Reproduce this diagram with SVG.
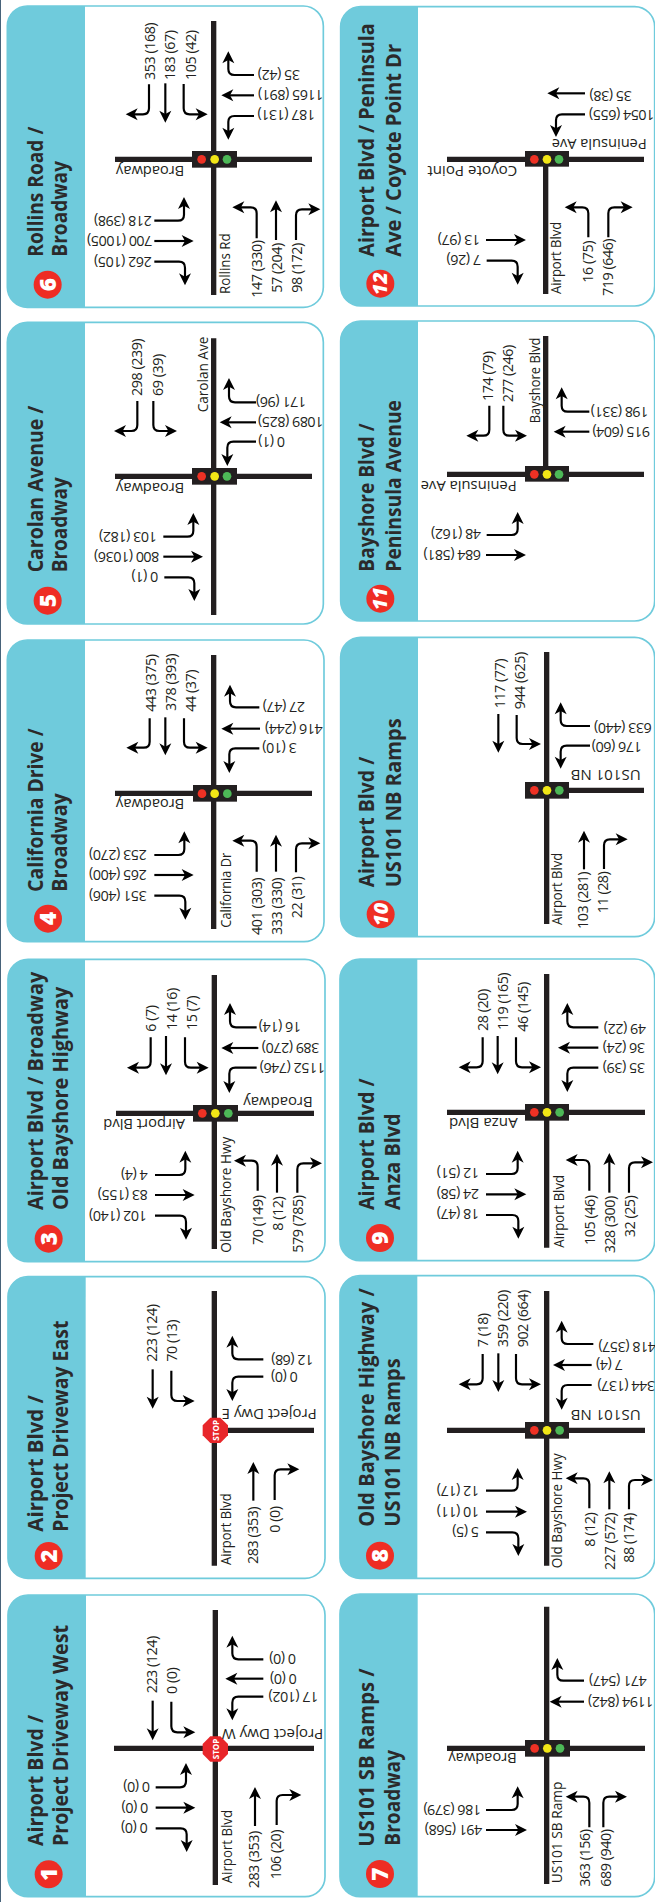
<svg xmlns="http://www.w3.org/2000/svg" xmlns:xlink="http://www.w3.org/1999/xlink" width="655" height="1902" viewBox="0 0 655 1902">
<style>
text{font-family:"Open Sans","Noto Sans",sans-serif;fill:#231f20}
.n{font-size:43px;letter-spacing:-1.4px}
.r{font-size:46px}
.t{font-size:63px;font-weight:700;fill:#2b2a2b}
.b{font-size:68px;font-weight:800;fill:#fff;text-anchor:middle}
.bi{font-size:60px;font-style:italic}
.s{font-size:27px;font-weight:700;fill:#fff;text-anchor:middle}
.panel{fill:#fff;stroke:#6fcbdc;stroke-width:5}
.strip{fill:#6fcbdc}
.badge{fill:#ee2d24}
.road{stroke:#231f20;stroke-width:16;fill:none}
.box{fill:#231f20}
.lr{fill:#ee3124}.ly{fill:#f2e616}.lg{fill:#4db857}
.a{fill:none;stroke:#000;stroke-width:6.5;marker-end:url(#h)}
</style>
<defs>
<marker id="h" markerUnits="userSpaceOnUse" markerWidth="40" markerHeight="40" refX="12" refY="18" orient="auto" overflow="visible"><path d="M36 18 L0 0 L10 18 L0 36Z" fill="#000"/></marker>
<polygon id="oct" points="-15,-38 15,-38 38,-15 38,15 15,38 -15,38 -38,15 -38,-15" fill="#e8262a"/>
</defs>
<rect width="655" height="1902" fill="#fff"/>
<rect width="1" height="1902" fill="#47637a"/>

<g id="intersection-1" transform="translate(0 1580) scale(.33333)">
<rect class="panel" x="24" y="45" width="951" height="905" rx="60"/>
<path class="strip" d="M258 45H84A60 60 0 0 0 24 105V890A60 60 0 0 0 84 950H258Z"/>
<circle class="badge" cx="146" cy="883" r="42"/><text class="b" transform="translate(170 883)rotate(-90)">1</text>
<text class="t" textLength="393" lengthAdjust="spacingAndGlyphs" transform="translate(128 798)rotate(-90)">Airport Blvd /</text>
<text class="t" textLength="663" lengthAdjust="spacingAndGlyphs" transform="translate(205 798)rotate(-90)">Project Driveway West</text>
<path class="road" d="M646 90V915M342 505H942"/>
<use xlink:href="#oct" href="#oct" x="646" y="507"/><text class="s" textLength="62" lengthAdjust="spacingAndGlyphs" transform="translate(656 507)rotate(-90)">STOP</text>
<text class="r" textLength="220" lengthAdjust="spacingAndGlyphs" transform="translate(695 910)rotate(-90)">Airport Blvd</text>
<text class="r" textLength="305" lengthAdjust="spacingAndGlyphs" transform="translate(970 447)rotate(180)">Project Dwy W</text>
<text class="n" transform="translate(470 340)rotate(-90)">223 (124)</text>
<text class="n" transform="translate(532 342)rotate(-90)">0 (0)</text>
<text class="n" transform="translate(888 223)rotate(180)">0 (0)</text>
<text class="n" transform="translate(890 281)rotate(180)">0 (0)</text>
<text class="n" transform="translate(955 336)rotate(180)">17 (102)</text>
<text class="n" transform="translate(450 607)rotate(180)">0 (0)</text>
<text class="n" transform="translate(445 668)rotate(180)">0 (0)</text>
<text class="n" transform="translate(443 730)rotate(180)">0 (0)</text>
<text class="n" transform="translate(778 925)rotate(-90)">283 (353)</text>
<text class="n" transform="translate(843 898)rotate(-90)">106 (20)</text>
</g>

<g id="intersection-2" transform="translate(0 1260) scale(.33333)">
<rect class="panel" x="24" y="50" width="951" height="905" rx="60"/>
<path class="strip" d="M257 50H84A60 60 0 0 0 24 110V895A60 60 0 0 0 84 955H257Z"/>
<circle class="badge" cx="146" cy="888" r="42"/><text class="b" transform="translate(170 888)rotate(-90)">2</text>
<text class="t" textLength="410" lengthAdjust="spacingAndGlyphs" transform="translate(128 815)rotate(-90)">Airport Blvd /</text>
<text class="t" textLength="633" lengthAdjust="spacingAndGlyphs" transform="translate(205 815)rotate(-90)">Project Driveway East</text>
<path class="road" d="M643 93V917M643 511H942"/>
<use xlink:href="#oct" href="#oct" x="646" y="511"/><text class="s" textLength="62" lengthAdjust="spacingAndGlyphs" transform="translate(656 511)rotate(-90)">STOP</text>
<text class="r" textLength="215" lengthAdjust="spacingAndGlyphs" transform="translate(692 915)rotate(-90)">Airport Blvd</text>
<text class="r" textLength="285" lengthAdjust="spacingAndGlyphs" transform="translate(950 447)rotate(180)">Project Dwy E</text>
<text class="n" transform="translate(470 305)rotate(-90)">223 (124)</text>
<text class="n" transform="translate(530 305)rotate(-90)">70 (13)</text>
<text class="n" transform="translate(940 284)rotate(180)">12 (68)</text>
<text class="n" transform="translate(893 337)rotate(180)">0 (0)</text>
<text class="n" transform="translate(775 912)rotate(-90)">283 (353)</text>
<text class="n" transform="translate(840 818)rotate(-90)">0 (0)</text>
</g>

<g id="intersection-3" transform="translate(0 950) scale(.33333)">
<rect class="panel" x="24" y="28" width="951" height="907" rx="60"/>
<path class="strip" d="M255 28H84A60 60 0 0 0 24 88V875A60 60 0 0 0 84 935H255Z"/>
<circle class="badge" cx="146" cy="866" r="42"/><text class="b" transform="translate(170 866)rotate(-90)">3</text>
<text class="t" textLength="715" lengthAdjust="spacingAndGlyphs" transform="translate(128 780)rotate(-90)">Airport Blvd / Broadway</text>
<text class="t" textLength="670" lengthAdjust="spacingAndGlyphs" transform="translate(205 780)rotate(-90)">Old Bayshore Highway</text>
<path class="road" d="M643 75V897M348 490H942"/>
<rect class="box" x="579" y="465" width="135" height="50"/><circle class="lr" cx="607" cy="490" r="13"/><circle class="ly" cx="646" cy="490" r="13"/><circle class="lg" cx="685" cy="490" r="13"/>
<text class="r" textLength="348" lengthAdjust="spacingAndGlyphs" transform="translate(692 908)rotate(-90)">Old Bayshore Hwy</text>
<text class="r" textLength="208" lengthAdjust="spacingAndGlyphs" transform="translate(938 440)rotate(180)">Broadway</text>
<text class="r" textLength="245" lengthAdjust="spacingAndGlyphs" transform="translate(555 508)rotate(180)">Airport Blvd</text>
<text class="n" transform="translate(468 245)rotate(-90)">6 (7)</text>
<text class="n" transform="translate(530 240)rotate(-90)">14 (16)</text>
<text class="n" transform="translate(590 240)rotate(-90)">15 (7)</text>
<text class="n" transform="translate(903 217)rotate(180)">16 (14)</text>
<text class="n" transform="translate(958 279)rotate(180)">389 (270)</text>
<text class="n" transform="translate(975 338)rotate(180)">1152 (746)</text>
<text class="n" transform="translate(443 660)rotate(180)">4 (4)</text>
<text class="n" transform="translate(443 720)rotate(180)">83 (155)</text>
<text class="n" transform="translate(440 782)rotate(180)">102 (140)</text>
<text class="n" transform="translate(790 885)rotate(-90)">70 (149)</text>
<text class="n" transform="translate(848 842)rotate(-90)">8 (12)</text>
<text class="n" transform="translate(908 908)rotate(-90)">579 (785)</text>
</g>

<g id="intersection-4" transform="translate(0 630) scale(.33333)">
<rect class="panel" x="22" y="30" width="950" height="905" rx="60"/>
<path class="strip" d="M255 30H82A60 60 0 0 0 22 90V875A60 60 0 0 0 82 935H255Z"/>
<circle class="badge" cx="144" cy="866" r="42"/><text class="b" transform="translate(168 866)rotate(-90)">4</text>
<text class="t" textLength="490" lengthAdjust="spacingAndGlyphs" transform="translate(128 785)rotate(-90)">California Drive /</text>
<text class="t" textLength="295" lengthAdjust="spacingAndGlyphs" transform="translate(200 785)rotate(-90)">Broadway</text>
<path class="road" d="M641 75V897M345 490H936"/>
<rect class="box" x="579" y="465" width="132" height="50"/><circle class="lr" cx="606" cy="491" r="13"/><circle class="ly" cx="644" cy="491" r="13"/><circle class="lg" cx="682" cy="491" r="13"/>
<text class="r" textLength="225" lengthAdjust="spacingAndGlyphs" transform="translate(692 893)rotate(-90)">California Dr</text>
<text class="r" textLength="205" lengthAdjust="spacingAndGlyphs" transform="translate(553 508)rotate(180)">Broadway</text>
<text class="n" transform="translate(467 245)rotate(-90)">443 (375)</text>
<text class="n" transform="translate(527 243)rotate(-90)">378 (393)</text>
<text class="n" transform="translate(587 245)rotate(-90)">44 (37)</text>
<text class="n" transform="translate(915 217)rotate(180)">27 (47)</text>
<text class="n" transform="translate(968 281)rotate(180)">416 (244)</text>
<text class="n" transform="translate(890 338)rotate(180)">3 (10)</text>
<text class="n" transform="translate(440 660)rotate(180)">253 (270)</text>
<text class="n" transform="translate(440 720)rotate(180)">265 (400)</text>
<text class="n" transform="translate(440 782)rotate(180)">351 (406)</text>
<text class="n" transform="translate(785 915)rotate(-90)">401 (303)</text>
<text class="n" transform="translate(845 915)rotate(-90)">333 (330)</text>
<text class="n" transform="translate(905 865)rotate(-90)">22 (31)</text>
</g>

<g id="intersection-5" transform="translate(0 315) scale(.33333)">
<rect class="panel" x="22" y="22" width="948" height="905" rx="60"/>
<path class="strip" d="M255 22H82A60 60 0 0 0 22 82V867A60 60 0 0 0 82 927H255Z"/>
<circle class="badge" cx="143" cy="857" r="42"/><text class="b" transform="translate(167 857)rotate(-90)">5</text>
<text class="t" textLength="500" lengthAdjust="spacingAndGlyphs" transform="translate(128 772)rotate(-90)">Carolan Avenue /</text>
<text class="t" textLength="285" lengthAdjust="spacingAndGlyphs" transform="translate(200 772)rotate(-90)">Broadway</text>
<path class="road" d="M641 70V900M345 484H936"/>
<rect class="box" x="576" y="459" width="135" height="50"/><circle class="lr" cx="605" cy="484" r="13"/><circle class="ly" cx="644" cy="484" r="13"/><circle class="lg" cx="681" cy="484" r="13"/>
<text class="r" textLength="227" lengthAdjust="spacingAndGlyphs" transform="translate(625 292)rotate(-90)">Carolan Ave</text>
<text class="r" textLength="205" lengthAdjust="spacingAndGlyphs" transform="translate(553 503)rotate(180)">Broadway</text>
<text class="n" transform="translate(427 243)rotate(-90)">298 (239)</text>
<text class="n" transform="translate(488 243)rotate(-90)">69 (39)</text>
<text class="n" transform="translate(918 247)rotate(180)">171 (96)</text>
<text class="n" transform="translate(970 307)rotate(180)">1089 (825)</text>
<text class="n" transform="translate(855 365)rotate(180)">0 (1)</text>
<text class="n" transform="translate(470 650)rotate(180)">103 (182)</text>
<text class="n" transform="translate(478 710)rotate(180)">800 (1036)</text>
<text class="n" transform="translate(475 772)rotate(180)">0 (1)</text>
</g>

<g id="intersection-6" transform="scale(.33333)">
<rect class="panel" x="22" y="18" width="948" height="904" rx="60"/>
<path class="strip" d="M255 18H82A60 60 0 0 0 22 78V862A60 60 0 0 0 82 922H255Z"/>
<circle class="badge" cx="143" cy="854" r="42"/><text class="b" transform="translate(167 854)rotate(-90)">6</text>
<text class="t" textLength="390" lengthAdjust="spacingAndGlyphs" transform="translate(128 770)rotate(-90)">Rollins Road /</text>
<text class="t" textLength="287" lengthAdjust="spacingAndGlyphs" transform="translate(200 770)rotate(-90)">Broadway</text>
<path class="road" d="M641 63V885M345 478H936"/>
<rect class="box" x="576" y="453" width="135" height="50"/><circle class="lr" cx="605" cy="478" r="13"/><circle class="ly" cx="644" cy="478" r="13"/><circle class="lg" cx="681" cy="478" r="13"/>
<text class="r" textLength="182" lengthAdjust="spacingAndGlyphs" transform="translate(690 882)rotate(-90)">Rollins Rd</text>
<text class="r" textLength="205" lengthAdjust="spacingAndGlyphs" transform="translate(553 498)rotate(180)">Broadway</text>
<text class="n" transform="translate(465 240)rotate(-90)">353 (168)</text>
<text class="n" transform="translate(525 240)rotate(-90)">183 (67)</text>
<text class="n" transform="translate(588 240)rotate(-90)">105 (42)</text>
<text class="n" transform="translate(900 210)rotate(180)">35 (42)</text>
<text class="n" transform="translate(970 271)rotate(180)">1165 (891)</text>
<text class="n" transform="translate(945 330)rotate(180)">187 (131)</text>
<text class="n" transform="translate(455 647)rotate(180)">218 (398)</text>
<text class="n" transform="translate(457 708)rotate(180)">700 (1005)</text>
<text class="n" transform="translate(455 770)rotate(180)">262 (105)</text>
<text class="n" transform="translate(785 893)rotate(-90)">147 (330)</text>
<text class="n" transform="translate(845 878)rotate(-90)">57 (204)</text>
<text class="n" transform="translate(905 878)rotate(-90)">98 (172)</text>
</g>

<g id="intersection-7" transform="translate(330 1580) scale(.33333)">
<rect class="panel" x="30" y="42" width="944" height="908" rx="60"/>
<path class="strip" d="M263 42H90A60 60 0 0 0 30 102V890A60 60 0 0 0 90 950H263Z"/>
<circle class="badge" cx="150" cy="882" r="42"/><text class="b" transform="translate(174 882)rotate(-90)">7</text>
<text class="t" textLength="535" lengthAdjust="spacingAndGlyphs" transform="translate(132 800)rotate(-90)">US101 SB Ramps /</text>
<text class="t" textLength="287" lengthAdjust="spacingAndGlyphs" transform="translate(210 797)rotate(-90)">Broadway</text>
<path class="road" d="M650 80V912M351 505H945"/>
<rect class="box" x="585" y="480" width="135" height="50"/><circle class="lr" cx="614" cy="505" r="13"/><circle class="ly" cx="652" cy="505" r="13"/><circle class="lg" cx="690" cy="505" r="13"/>
<text class="r" textLength="305" lengthAdjust="spacingAndGlyphs" transform="translate(695 910)rotate(-90)">US101 SB Ramp</text>
<text class="r" textLength="205" lengthAdjust="spacingAndGlyphs" transform="translate(560 520)rotate(180)">Broadway</text>
<text class="n" transform="translate(950 287)rotate(180)">471 (547)</text>
<text class="n" transform="translate(970 350)rotate(180)">1194 (842)</text>
<text class="n" transform="translate(453 675)rotate(180)">186 (379)</text>
<text class="n" transform="translate(457 735)rotate(180)">491 (568)</text>
<text class="n" transform="translate(780 920)rotate(-90)">363 (156)</text>
<text class="n" transform="translate(842 920)rotate(-90)">689 (940)</text>
</g>

<g id="intersection-8" transform="translate(330 1260) scale(.33333)">
<rect class="panel" x="30" y="47" width="944" height="908" rx="60"/>
<path class="strip" d="M262 47H90A60 60 0 0 0 30 107V895A60 60 0 0 0 90 955H262Z"/>
<circle class="badge" cx="150" cy="887" r="42"/><text class="b" transform="translate(174 887)rotate(-90)">8</text>
<text class="t" textLength="715" lengthAdjust="spacingAndGlyphs" transform="translate(132 800)rotate(-90)">Old Bayshore Highway /</text>
<text class="t" textLength="505" lengthAdjust="spacingAndGlyphs" transform="translate(210 800)rotate(-90)">US101 NB Ramps</text>
<path class="road" d="M650 93V917M351 511H945"/>
<rect class="box" x="585" y="486" width="132" height="50"/><circle class="lr" cx="613" cy="511" r="13"/><circle class="ly" cx="651" cy="511" r="13"/><circle class="lg" cx="689" cy="511" r="13"/>
<text class="r" textLength="345" lengthAdjust="spacingAndGlyphs" transform="translate(695 925)rotate(-90)">Old Bayshore Hwy</text>
<text class="r" textLength="210" lengthAdjust="spacingAndGlyphs" transform="translate(932 450)rotate(180)">US101 NB</text>
<text class="n" transform="translate(475 262)rotate(-90)">7 (18)</text>
<text class="n" transform="translate(535 262)rotate(-90)">359 (220)</text>
<text class="n" transform="translate(595 262)rotate(-90)">902 (664)</text>
<text class="n" transform="translate(978 247)rotate(180)">418 (357)</text>
<text class="n" transform="translate(878 300)rotate(180)">7 (4)</text>
<text class="n" transform="translate(975 363)rotate(180)">344 (137)</text>
<text class="n" transform="translate(447 677)rotate(180)">12 (17)</text>
<text class="n" transform="translate(447 740)rotate(180)">10 (11)</text>
<text class="n" transform="translate(447 800)rotate(180)">5 (5)</text>
<text class="n" transform="translate(795 860)rotate(-90)">8 (12)</text>
<text class="n" transform="translate(855 930)rotate(-90)">227 (572)</text>
<text class="n" transform="translate(913 908)rotate(-90)">88 (174)</text>
</g>

<g id="intersection-9" transform="translate(330 950) scale(.33333)">
<rect class="panel" x="30" y="27" width="944" height="905" rx="60"/>
<path class="strip" d="M262 27H90A60 60 0 0 0 30 87V872A60 60 0 0 0 90 932H262Z"/>
<circle class="badge" cx="150" cy="864" r="42"/><text class="b" transform="translate(174 864)rotate(-90)">9</text>
<text class="t" textLength="395" lengthAdjust="spacingAndGlyphs" transform="translate(132 780)rotate(-90)">Airport Blvd /</text>
<text class="t" textLength="290" lengthAdjust="spacingAndGlyphs" transform="translate(210 780)rotate(-90)">Anza Blvd</text>
<path class="road" d="M650 72V893M351 487H945"/>
<rect class="box" x="585" y="462" width="132" height="50"/><circle class="lr" cx="613" cy="487" r="13"/><circle class="ly" cx="651" cy="487" r="13"/><circle class="lg" cx="689" cy="487" r="13"/>
<text class="r" textLength="218" lengthAdjust="spacingAndGlyphs" transform="translate(703 893)rotate(-90)">Airport Blvd</text>
<text class="r" textLength="206" lengthAdjust="spacingAndGlyphs" transform="translate(563 505)rotate(180)">Anza Blvd</text>
<text class="n" transform="translate(473 243)rotate(-90)">28 (20)</text>
<text class="n" transform="translate(533 240)rotate(-90)">119 (165)</text>
<text class="n" transform="translate(593 245)rotate(-90)">46 (145)</text>
<text class="n" transform="translate(948 222)rotate(180)">49 (22)</text>
<text class="n" transform="translate(945 280)rotate(180)">36 (24)</text>
<text class="n" transform="translate(945 340)rotate(180)">35 (39)</text>
<text class="n" transform="translate(447 655)rotate(180)">12 (51)</text>
<text class="n" transform="translate(447 718)rotate(180)">24 (58)</text>
<text class="n" transform="translate(447 778)rotate(180)">18 (47)</text>
<text class="n" transform="translate(795 885)rotate(-90)">105 (46)</text>
<text class="n" transform="translate(855 910)rotate(-90)">328 (300)</text>
<text class="n" transform="translate(915 862)rotate(-90)">32 (25)</text>
</g>

<g id="intersection-10" transform="translate(330 630) scale(.33333)">
<rect class="panel" x="32" y="22" width="942" height="898" rx="60"/>
<path class="strip" d="M264 22H92A60 60 0 0 0 32 82V860A60 60 0 0 0 92 920H264Z"/>
<circle class="badge" cx="152" cy="853" r="42"/><text class="b bi" transform="translate(173 853)rotate(-90)">10</text>
<text class="t" textLength="392" lengthAdjust="spacingAndGlyphs" transform="translate(132 772)rotate(-90)">Airport Blvd /</text>
<text class="t" textLength="507" lengthAdjust="spacingAndGlyphs" transform="translate(212 772)rotate(-90)">US101 NB Ramps</text>
<path class="road" d="M650 66V882M717 481H942"/>
<rect class="box" x="585" y="456" width="132" height="50"/><circle class="lr" cx="613" cy="481" r="13"/><circle class="ly" cx="651" cy="481" r="13"/><circle class="lg" cx="688" cy="481" r="13"/>
<text class="r" textLength="217" lengthAdjust="spacingAndGlyphs" transform="translate(695 885)rotate(-90)">Airport Blvd</text>
<text class="r" textLength="210" lengthAdjust="spacingAndGlyphs" transform="translate(932 420)rotate(180)">US101 NB</text>
<text class="n" transform="translate(525 235)rotate(-90)">117 (77)</text>
<text class="n" transform="translate(585 238)rotate(-90)">944 (625)</text>
<text class="n" transform="translate(965 278)rotate(180)">633 (440)</text>
<text class="n" transform="translate(935 337)rotate(180)">176 (60)</text>
<text class="n" transform="translate(775 897)rotate(-90)">103 (281)</text>
<text class="n" transform="translate(835 850)rotate(-90)">11 (28)</text>
</g>

<g id="intersection-11" transform="translate(330 315) scale(.33333)">
<rect class="panel" x="32" y="18" width="942" height="900" rx="60"/>
<path class="strip" d="M264 18H92A60 60 0 0 0 32 78V858A60 60 0 0 0 92 918H264Z"/>
<circle class="badge" cx="151" cy="851" r="42"/><text class="b bi" transform="translate(172 851)rotate(-90)">11</text>
<text class="t" textLength="445" lengthAdjust="spacingAndGlyphs" transform="translate(132 770)rotate(-90)">Bayshore Blvd /</text>
<text class="t" textLength="515" lengthAdjust="spacingAndGlyphs" transform="translate(212 770)rotate(-90)">Peninsula Avenue</text>
<path class="road" d="M647 63V478M351 478H942"/>
<rect class="box" x="585" y="453" width="132" height="47"/><circle class="lr" cx="613" cy="478" r="13"/><circle class="ly" cx="651" cy="478" r="13"/><circle class="lg" cx="687" cy="478" r="13"/>
<text class="r" textLength="257" lengthAdjust="spacingAndGlyphs" transform="translate(630 325)rotate(-90)">Bayshore Blvd</text>
<text class="r" textLength="288" lengthAdjust="spacingAndGlyphs" transform="translate(560 497)rotate(180)">Peninsula Ave</text>
<text class="n" transform="translate(490 258)rotate(-90)">174 (79)</text>
<text class="n" transform="translate(550 262)rotate(-90)">277 (246)</text>
<text class="n" transform="translate(955 275)rotate(180)">198 (331)</text>
<text class="n" transform="translate(960 335)rotate(180)">915 (604)</text>
<text class="n" transform="translate(453 643)rotate(180)">48 (162)</text>
<text class="n" transform="translate(453 705)rotate(180)">684 (581)</text>
</g>

<g id="intersection-12" transform="translate(330 0) scale(.33333)">
<rect class="panel" x="32" y="20" width="942" height="898" rx="60"/>
<path class="strip" d="M264 20H92A60 60 0 0 0 32 80V858A60 60 0 0 0 92 918H264Z"/>
<circle class="badge" cx="151" cy="851" r="42"/><text class="b bi" transform="translate(172 851)rotate(-90)">12</text>
<text class="t" textLength="700" lengthAdjust="spacingAndGlyphs" transform="translate(132 770)rotate(-90)">Airport Blvd / Peninsula</text>
<text class="t" textLength="638" lengthAdjust="spacingAndGlyphs" transform="translate(212 770)rotate(-90)">Ave / Coyote Point Dr</text>
<path class="road" d="M647 478V882M351 478H942"/>
<rect class="box" x="585" y="453" width="132" height="47"/><circle class="lr" cx="613" cy="478" r="13"/><circle class="ly" cx="651" cy="478" r="13"/><circle class="lg" cx="687" cy="478" r="13"/>
<text class="r" textLength="217" lengthAdjust="spacingAndGlyphs" transform="translate(693 882)rotate(-90)">Airport Blvd</text>
<text class="r" textLength="285" lengthAdjust="spacingAndGlyphs" transform="translate(950 418)rotate(180)">Peninsula Ave</text>
<text class="r" textLength="270" lengthAdjust="spacingAndGlyphs" transform="translate(562 497)rotate(180)">Coyote Point</text>
<text class="n" transform="translate(905 272)rotate(180)">35 (38)</text>
<text class="n" transform="translate(973 330)rotate(180)">1054 (655)</text>
<text class="n" transform="translate(450 705)rotate(180)">13 (97)</text>
<text class="n" transform="translate(453 765)rotate(180)">7 (26)</text>
<text class="n" transform="translate(790 848)rotate(-90)">16 (75)</text>
<text class="n" transform="translate(850 888)rotate(-90)">719 (646)</text>
</g>

<g id="connectors">
<g id="arrows-1" transform="translate(0 1580) scale(.33333)">
<path class="a" d="M458 362V457"/>
<path class="a" d="M514 365V439q0 18 18 18H562"/>
<path class="a" d="M790 238H715q-18 0 -18 -18V191"/>
<path class="a" d="M790 296H700"/>
<path class="a" d="M790 350H715q-18 0 -18 18V397"/>
<path class="a" d="M467 622H540q18 0 18 -18V573"/>
<path class="a" d="M467 683H562"/>
<path class="a" d="M467 745H542q18 0 18 18V792"/>
<path class="a" d="M765 738V645"/>
<path class="a" d="M830 735V663q0 -18 18 -18H880"/>
</g>
<g id="arrows-2" transform="translate(0 1260) scale(.33333)">
<path class="a" d="M458 328V422"/>
<path class="a" d="M514 332V405q0 18 18 18H560"/>
<path class="a" d="M790 298H715q-18 0 -18 -18V251"/>
<path class="a" d="M790 350H715q-18 0 -18 18V399"/>
<path class="a" d="M760 722V630"/>
<path class="a" d="M824 720V646q0 -18 18 -18H874"/>
</g>
<g id="arrows-3" transform="translate(0 950) scale(.33333)">
<path class="a" d="M452 262V335q0 18 -18 18H405"/>
<path class="a" d="M498 258V352"/>
<path class="a" d="M555 262V335q0 18 18 18H602"/>
<path class="a" d="M770 232H708q-18 0 -18 -18V183"/>
<path class="a" d="M775 294H688"/>
<path class="a" d="M770 353H706q-18 0 -18 18V405"/>
<path class="a" d="M465 675H538q18 0 18 -18V626"/>
<path class="a" d="M465 735H560"/>
<path class="a" d="M465 797H540q18 0 18 18V845"/>
<path class="a" d="M773 722V650q0 -18 -18 -18H726"/>
<path class="a" d="M831 728V635"/>
<path class="a" d="M892 728V658q0 -18 18 -18H942"/>
</g>
<g id="arrows-4" transform="translate(0 630) scale(.33333)">
<path class="a" d="M449 265V335q0 18 -18 18H403"/>
<path class="a" d="M496 262V352"/>
<path class="a" d="M552 265V335q0 18 18 18H599"/>
<path class="a" d="M778 232H708q-18 0 -18 -18V188"/>
<path class="a" d="M780 296H688"/>
<path class="a" d="M778 355H706q-18 0 -18 18V405"/>
<path class="a" d="M463 675H535q18 0 18 -18V628"/>
<path class="a" d="M463 735H557"/>
<path class="a" d="M463 797H538q18 0 18 18V845"/>
<path class="a" d="M770 725V650q0 -18 -18 -18H721"/>
<path class="a" d="M828 725V638"/>
<path class="a" d="M888 727V658q0 -18 18 -18H937"/>
</g>
<g id="arrows-5" transform="translate(0 315) scale(.33333)">
<path class="a" d="M412 258V330q0 18 -18 18H366"/>
<path class="a" d="M460 258V330q0 18 18 18H507"/>
<path class="a" d="M768 262H705q-18 0 -18 -18V213"/>
<path class="a" d="M768 322H683"/>
<path class="a" d="M768 380H700q-18 0 -18 18V429"/>
<path class="a" d="M490 665H562q18 0 18 -18V618"/>
<path class="a" d="M490 725H585"/>
<path class="a" d="M493 787H565q18 0 18 18V834"/>
</g>
<g id="arrows-6" transform="scale(.33333)">
<path class="a" d="M447 253V325q0 18 -18 18H401"/>
<path class="a" d="M496 250V344"/>
<path class="a" d="M551 252V325q0 18 18 18H599"/>
<path class="a" d="M762 225H703q-18 0 -18 -18V178"/>
<path class="a" d="M762 286H688"/>
<path class="a" d="M762 348H703q-18 0 -18 18V395"/>
<path class="a" d="M463 662H534q18 0 18 -18V615"/>
<path class="a" d="M463 723H557"/>
<path class="a" d="M463 785H537q18 0 18 18V832"/>
<path class="a" d="M770 715V640q0 -18 -18 -18H721"/>
<path class="a" d="M828 720V625"/>
<path class="a" d="M888 720V646q0 -18 18 -18H937"/>
</g>
<g id="arrows-7" transform="translate(330 1580) scale(.33333)">
<path class="a" d="M762 302H700q-18 0 -18 -18V258"/>
<path class="a" d="M762 365H683"/>
<path class="a" d="M468 690H545q18 0 18 -18V643"/>
<path class="a" d="M468 750H567"/>
<path class="a" d="M778 742V668q0 -18 -18 -18H731"/>
<path class="a" d="M820 742V668q0 -18 18 -18H867"/>
</g>
<g id="arrows-8" transform="translate(330 1260) scale(.33333)">
<path class="a" d="M458 282V355q0 18 -18 18H410"/>
<path class="a" d="M505 280V372"/>
<path class="a" d="M558 282V355q0 18 18 18H609"/>
<path class="a" d="M790 252H713q-18 0 -18 -18V206"/>
<path class="a" d="M785 315H693"/>
<path class="a" d="M785 375H713q-18 0 -18 18V425"/>
<path class="a" d="M468 692H545q18 0 18 -18V648"/>
<path class="a" d="M468 755H567"/>
<path class="a" d="M468 817H547q18 0 18 18V864"/>
<path class="a" d="M778 745V673q0 -18 -18 -18H731"/>
<path class="a" d="M838 748V658"/>
<path class="a" d="M897 748V678q0 -18 18 -18H945"/>
</g>
<g id="arrows-9" transform="translate(330 950) scale(.33333)">
<path class="a" d="M458 262V334q0 18 -18 18H410"/>
<path class="a" d="M503 258V349"/>
<path class="a" d="M558 262V334q0 18 18 18H609"/>
<path class="a" d="M805 232H730q-18 0 -18 -18V183"/>
<path class="a" d="M805 293H708"/>
<path class="a" d="M805 353H730q-18 0 -18 18V402"/>
<path class="a" d="M468 672H545q18 0 18 -18V626"/>
<path class="a" d="M468 733H565"/>
<path class="a" d="M468 795H547q18 0 18 18V842"/>
<path class="a" d="M778 722V648q0 -18 -18 -18H731"/>
<path class="a" d="M838 728V633"/>
<path class="a" d="M897 728V655q0 -18 18 -18H945"/>
</g>
<g id="arrows-10" transform="translate(330 630) scale(.33333)">
<path class="a" d="M505 252V344"/>
<path class="a" d="M560 255V324q0 18 18 18H609"/>
<path class="a" d="M780 288H710q-18 0 -18 -18V241"/>
<path class="a" d="M780 347H710q-18 0 -18 18V392"/>
<path class="a" d="M762 718V626"/>
<path class="a" d="M822 717V646q0 -18 18 -18H869"/>
</g>
<g id="arrows-11" transform="translate(330 315) scale(.33333)">
<path class="a" d="M478 272V344q0 18 -18 18H433"/>
<path class="a" d="M520 272V344q0 18 18 18H567"/>
<path class="a" d="M778 290H713q-18 0 -18 -18V241"/>
<path class="a" d="M778 350H695"/>
<path class="a" d="M470 660H545q18 0 18 -18V615"/>
<path class="a" d="M468 720H564"/>
</g>
<g id="arrows-12" transform="translate(330 0) scale(.33333)">
<path class="a" d="M765 280H676"/>
<path class="a" d="M765 343H696q-18 0 -18 18V387"/>
<path class="a" d="M468 720H564"/>
<path class="a" d="M470 782H545q18 0 18 18V830"/>
<path class="a" d="M775 712V640q0 -18 -18 -18H728"/>
<path class="a" d="M835 712V640q0 -18 18 -18H884"/>
</g>
</g>
</svg>
